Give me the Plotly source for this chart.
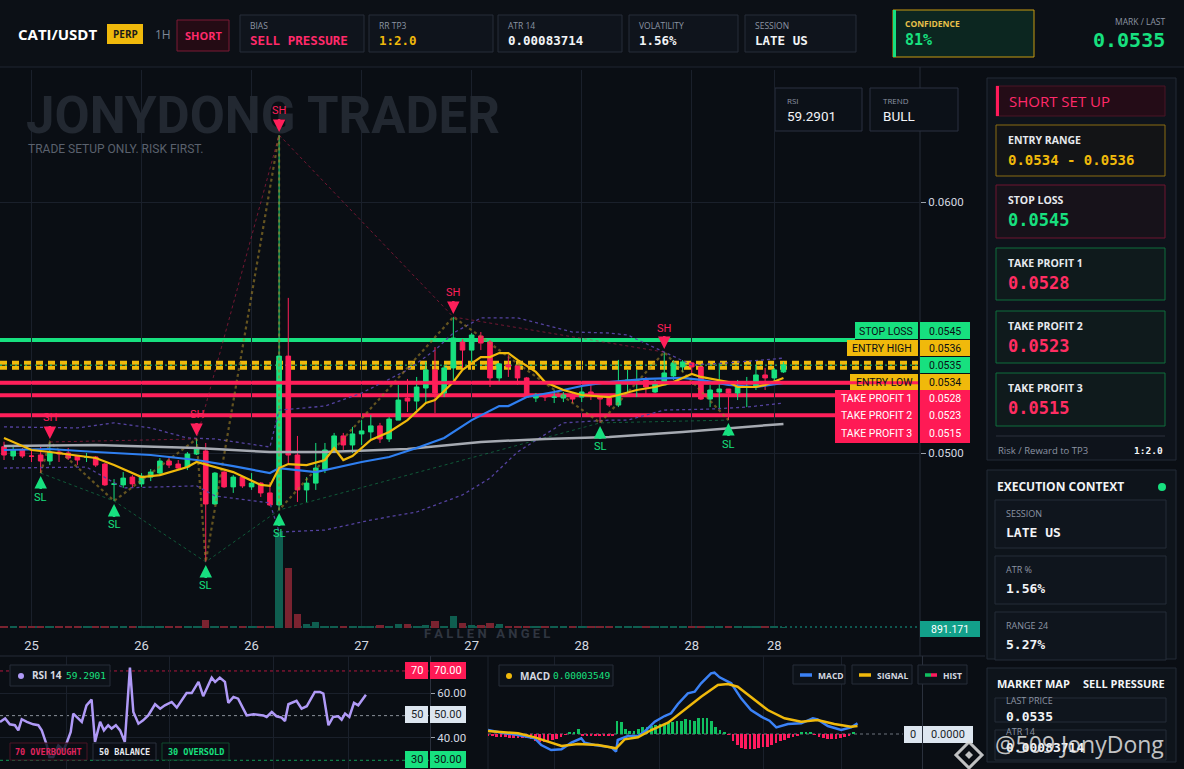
import plotly.graph_objects as go

W, H = 1184, 769
def PX(x): return x / W
def PY(y): return 1 - y / H

SANS = "Open Sans, Noto Sans, sans-serif"
MONO = "DejaVu Sans Mono, Liberation Mono, monospace"
NARROW = "Liberation Sans Narrow, Roboto, sans-serif"
GREEN = "#17e07f"
RED = "#ff1f5a"
GOLD = "#f0b90b"
BG = "#0a0e14"
GRID = "#1a202b"

# ---------------- data ----------------
idx = list(range(86))
opens = [0.05025,0.04988,0.05012,0.04988,0.04992,0.04968,0.05004,0.05000,0.04988,0.04983,
         0.04984,0.04956,0.04875,0.04873,0.04904,0.04877,0.04904,0.04920,0.04968,0.04956,
         0.04944,0.04996,0.05008,0.04797,0.04924,0.04865,0.04904,0.04865,0.04880,0.04841,
         0.04793,0.05386,0.04992,0.04853,0.04880,0.04936,0.05008,0.05068,0.05032,0.05076,
         0.05084,0.05108,0.05056,0.05131,0.05219,0.05207,0.05259,0.05331,0.05239,0.05339,
         0.05442,0.05410,0.05466,0.05442,0.05299,0.05351,0.05347,0.05299,0.05219,0.05231,
         0.05222,0.05219,0.05223,0.05223,0.05243,0.05223,0.05219,0.05191,0.05283,0.05287,
         0.05291,0.05243,0.05271,0.05307,0.05343,0.05359,0.05343,0.05215,0.05243,0.05255,
         0.05239,0.05262,0.05267,0.05311,0.05299,0.05323]
highs = [0.05045,0.05032,0.05020,0.05012,0.05024,0.05044,0.05012,0.05020,0.04992,0.05000,
         0.04988,0.04960,0.04896,0.04924,0.04912,0.04920,0.04936,0.04980,0.04980,0.04972,
         0.05004,0.05056,0.05040,0.04924,0.04928,0.04912,0.04908,0.04920,0.04884,0.04884,
         0.06267,0.05618,0.05068,0.04904,0.05040,0.05040,0.05080,0.05080,0.05104,0.05131,
         0.05151,0.05120,0.05143,0.05271,0.05295,0.05303,0.05363,0.05422,0.05351,0.05542,
         0.05454,0.05478,0.05482,0.05450,0.05359,0.05390,0.05347,0.05303,0.05239,0.05239,
         0.05251,0.05243,0.05239,0.05271,0.05283,0.05231,0.05231,0.05371,0.05331,0.05331,
         0.05303,0.05291,0.05402,0.05370,0.05370,0.05363,0.05343,0.05271,0.05359,0.05255,
         0.05291,0.05303,0.05351,0.05339,0.05339,0.05363]
lows = [0.04972,0.04972,0.04980,0.04964,0.04920,0.04952,0.04964,0.04972,0.04952,0.04964,
        0.04944,0.04869,0.04809,0.04861,0.04861,0.04865,0.04888,0.04912,0.04940,0.04932,
        0.04932,0.04992,0.04566,0.04793,0.04861,0.04841,0.04861,0.04853,0.04825,0.04789,
        0.04773,0.04960,0.04805,0.04805,0.04853,0.04920,0.05000,0.05012,0.05000,0.05032,
        0.05052,0.05040,0.05044,0.05131,0.05163,0.05171,0.05199,0.05159,0.05223,0.05291,
        0.05339,0.05363,0.05410,0.05263,0.05283,0.05303,0.05271,0.05219,0.05203,0.05207,
        0.05199,0.05203,0.05199,0.05203,0.05211,0.05120,0.05183,0.05183,0.05243,0.05223,
        0.05223,0.05239,0.05271,0.05291,0.05323,0.05319,0.05211,0.05183,0.05179,0.05131,
        0.05211,0.05183,0.05251,0.05251,0.05283,0.05319]
closes = [0.04992,0.05012,0.04988,0.04987,0.04968,0.05004,0.04996,0.04980,0.04972,0.04984,
          0.04952,0.04873,0.04877,0.04900,0.04877,0.04908,0.04924,0.04968,0.04952,0.04940,
          0.04996,0.05016,0.04797,0.04920,0.04865,0.04904,0.04869,0.04880,0.04841,0.04793,
          0.05386,0.04992,0.04853,0.04880,0.04940,0.05012,0.05068,0.05032,0.05076,0.05088,
          0.05108,0.05056,0.05135,0.05211,0.05207,0.05263,0.05331,0.05239,0.05339,0.05458,
          0.05410,0.05470,0.05438,0.05299,0.05355,0.05343,0.05299,0.05223,0.05231,0.05223,
          0.05223,0.05231,0.05215,0.05243,0.05231,0.05215,0.05191,0.05279,0.05291,0.05291,
          0.05263,0.05283,0.05319,0.05359,0.05363,0.05343,0.05215,0.05251,0.05255,0.05239,
          0.05263,0.05263,0.05311,0.05299,0.05331,0.05351]
volumes = [1400,1100,1600,1200,1500,1300,1000,1400,1200,1100,
           1300,1500,1200,1000,1300,1100,1400,1200,1000,1300,
           1500,1700,7500,2200,1500,1300,1100,1200,1400,1300,
           86000,54000,12500,3600,5400,1800,1800,2000,1500,1700,
           1600,2700,1500,3600,3600,1800,2700,6300,2200,10800,
           4500,2700,2700,4500,3600,1800,1500,1300,1200,1100,
           1300,1000,1200,1400,1500,1800,1300,1800,1200,1100,
           1300,1200,1500,1300,1200,1100,1400,1800,1300,2200,
           1200,1300,1200,1100,1000,891.171]

x_tick_vals = [3, 15, 27, 39, 51, 63, 75, 84]
x_tick_text = ["25", "26", "26", "27", "27", "28", "28", "28"]
price_tick_vals = [0.05, 0.06]
price_tick_text = ["0.0500", "0.0600"]

ema_fast_idx = [0,3,5,10,12,15,17,20,21,23,25,28,29,30,31,33,35,36,37,38,40,42,44,46,47,49,50,52,53,54,
                55,56,58,59,61,63,66,67,69,71,73,75,76,79,80,82,83,85]
ema_fast = [0.05060,0.05012,0.05004,0.04980,0.04952,0.04904,0.04912,0.04944,0.04964,0.04944,
            0.04924,0.04873,0.04869,0.04940,0.04956,0.04952,0.04972,0.05020,0.04972,0.04988,
            0.05052,0.05084,0.05131,0.05199,0.05211,0.05283,0.05331,0.05382,0.05382,0.05398,
            0.05398,0.05371,0.05323,0.05283,0.05251,0.05231,0.05223,0.05231,0.05251,0.05263,
            0.05283,0.05315,0.05303,0.05283,0.05263,0.05263,0.05271,0.05299]
ema_mid_idx = [0,5,10,16,21,25,29,30,34,39,42,45,48,51,54,55,57,60,63,66,70,74,76,79,82,85]
ema_mid = [0.05012,0.05016,0.05004,0.04992,0.04972,0.04948,0.04920,0.04940,0.04924,0.04964,
           0.04984,0.05020,0.05060,0.05131,0.05187,0.05187,0.05223,0.05243,0.05267,0.05283,
           0.05295,0.05299,0.05291,0.05271,0.05263,0.05279]
ema_slow_idx = [0,10,21,29,35,44,52,59,66,74,85]
ema_slow = [0.05028,0.05032,0.05020,0.05004,0.05004,0.05016,0.05044,0.05056,0.05064,0.05084,0.05116]
band_up_idx = [0,8,12,16,20,23,29,30,35,39,44,47,49,52,56,62,66,68,72,75,79,85]
band_up = [0.05104,0.05100,0.05120,0.05100,0.05060,0.05056,0.05024,0.05171,0.05187,0.05239,
           0.05331,0.05410,0.05478,0.05538,0.05538,0.05482,0.05478,0.05470,0.05402,0.05351,
           0.05359,0.05378]
band_lo_idx = [0,9,13,21,23,29,30,35,40,45,50,53,56,61,66,68,72,77,81,85]
band_lo = [0.04940,0.04944,0.04861,0.04869,0.04829,0.04801,0.04685,0.04693,0.04733,0.04765,
           0.04833,0.04900,0.05004,0.05120,0.05131,0.05131,0.05171,0.05175,0.05183,0.05199]

sh_idx = [5, 21, 30, 49, 72]
sl_idx = [4, 12, 22, 30, 65, 79]
zigzag = [("L", 4), ("H", 5), ("L", 12), ("H", 21), ("L", 22), ("H", 30), ("L", 30),
          ("H", 49), ("L", 65), ("H", 72), ("L", 79)]

levels = {"stop": 0.0545, "entry_high": 0.0536, "last": 0.0535, "entry_low": 0.0534,
          "tp1": 0.0528, "tp2": 0.0523, "tp3": 0.0515}

rsi_idx = [0.0,1.2,2.3,3.5,4.3,5.1,6.3,7.8,9.0,9.8,11.0,11.6,12.5,13.7,14.9,15.6,16.6,17.2,19.2,20.3,
           21.5,22.3,23.5,24.4,25.4,26.2,27.2,28.2,29.3,30.5,31.3,32.5,33.6,34.8,36.4,37.6,38.7,40.3,41.5,42.6,
           43.8,45.0,46.6,47.7,49.7,50.5,51.6,52.8,53.6,54.8,55.9,57.9,59.5,61.8,62.6,63.8,64.9,66.1,66.9,67.7,
           69.6,70.8,72.0,73.9,75.1,75.9,77.1,78.2,79.4,80.2,81.0,82.0,83.1,84.1,85.9]
rsi_vals = [47.2,48.7,46.1,45.7,43.4,48.4,47.2,46.1,45.7,43.4,36.7,31.5,31.5,36.7,34.5,37.5,42.7,50.9,47.2,54.6,
            57.2,38.2,47.2,43.4,45.7,44.2,45.7,43.4,38.2,71.5,51.6,46.4,47.9,50.1,55.1,53.1,54.6,56.1,53.6,56.9,
            60.1,60.1,65.1,58.7,67.0,65.1,67.0,65.1,55.7,58.4,57.6,50.1,50.6,50.1,49.4,51.6,49.7,49.1,47.6,55.1,
            56.6,53.1,54.2,60.6,60.6,59.9,45.7,49.4,49.7,48.2,50.9,49.4,55.7,54.6,59.3]

# MACD values in units of 1e-6
macd_idx = [0,3.1,7.0,10.9,12.4,14.7,17.1,19.4,21.7,22.5,24.8,28.7,29.8,30.2,32.6,34.9,36.4,38.8,41.1,42.6,
            44.2,46.5,48.1,49.6,51.9,52.7,53.9,56.6,58.9,61.2,63.6,65.5,67.1,69.8,72.9,75.6,76.7,79.1,82.2,84.5,86.0]
macd_vals = [12,4,-3,-13,-33,-48,-46,-26,-13,-26,-33,-40,-53,-18,-6,-6,7,37,54,62,
             90,122,127,152,182,184,170,152,107,72,52,40,20,30,32,47,44,24,12,20,32]
signal_idx = [0,7.0,10.9,13.2,17.1,20.9,25.6,29.8,31.8,34.9,38.0,41.9,45.7,49.6,53.5,55.8,58.1,61.2,65.1,69.0,
              72.9,76.7,80.6,84.5,86.0]
signal_vals = [9,2,-10,-20,-36,-30,-33,-43,-16,-10,12,34,72,112,147,150,142,112,72,47,37,42,30,22,24]
hist_vals = [-4,-6,-8,-10,-10,-12,-12,-11,-13,-11,-16,-20,-23,-23,-20,-18,-14,-10,-3,4,
             7,14,-4,-5,-5,-6,-5,-5,-6,-6,40,37,16,8,8,14,20,20,24,27,
             30,30,34,37,40,40,44,42,40,47,47,47,40,22,12,4,-3,-20,-33,-42,
             -46,-46,-44,-42,-40,-38,-32,-27,-22,-17,-12,-8,-4,4,7,7,-3,-10,-13,-16,
             -16,-16,-13,-10,-6,4]

# ---------------- helpers ----------------
shapes, annotations = [], []

def box(x0, y0, x1, y1, fill, line=None, lw=1, layer="below"):
    shapes.append(dict(type="rect", xref="paper", yref="paper", x0=PX(x0), x1=PX(x1),
                       y0=PY(y1), y1=PY(y0), fillcolor=fill, layer=layer,
                       line=dict(color=line if line else "rgba(0,0,0,0)", width=lw if line else 0)))

def seg(x0, y0, x1, y1, color, width=1, dash="solid", layer="below"):
    shapes.append(dict(type="line", xref="paper", yref="paper", x0=PX(x0), x1=PX(x1),
                       y0=PY(y0), y1=PY(y1), line=dict(color=color, width=width, dash=dash), layer=layer))

def txt(x, y, s, size=11, color="#ffffff", family=SANS, weight="normal", anchor="left"):
    annotations.append(dict(xref="paper", yref="paper", x=PX(x), y=PY(y), text=s, showarrow=False,
                            xanchor=anchor, yanchor="middle",
                            font=dict(size=size, color=color, family=family, weight=weight)))

def level_line(val, x1px, color, width, dash="solid", layer="below"):
    shapes.append(dict(type="line", xref="paper", yref="y", x0=0, x1=PX(x1px), y0=val, y1=val,
                       line=dict(color=color, width=width, dash=dash), layer=layer))

fig = go.Figure()

# ---------------- main chart traces ----------------
vol_colors = ["#0f5e50" if c >= o else "#7a2330" for o, c in zip(opens, closes)]
fig.add_trace(go.Bar(x=idx, y=volumes, marker=dict(color=vol_colors, line=dict(width=0)),
                     width=0.8, xaxis="x", yaxis="y2", hoverinfo="skip"))

band_style = dict(color="#54429f", width=1.3, dash="dot")
fig.add_trace(go.Scatter(x=band_up_idx, y=band_up, mode="lines", line=band_style, xaxis="x", yaxis="y"))
fig.add_trace(go.Scatter(x=band_lo_idx, y=band_lo, mode="lines", line=band_style, xaxis="x", yaxis="y"))

zz_x = [i for _, i in zigzag]
zz_y = [highs[i] if k == "H" else lows[i] for k, i in zigzag]
fig.add_trace(go.Scatter(x=zz_x, y=zz_y, mode="lines",
                         line=dict(color="rgba(160,130,40,0.6)", width=2.2, dash="dot"), xaxis="x", yaxis="y"))
fig.add_trace(go.Scatter(x=sh_idx, y=[highs[i] for i in sh_idx], mode="lines",
                         line=dict(color="rgba(200,30,75,0.55)", width=1, dash="dot"), xaxis="x", yaxis="y"))
fig.add_trace(go.Scatter(x=sl_idx, y=[lows[i] for i in sl_idx], mode="lines",
                         line=dict(color="rgba(20,150,85,0.55)", width=1, dash="dot"), xaxis="x", yaxis="y"))

fig.add_trace(go.Scatter(x=ema_slow_idx, y=ema_slow, mode="lines", line=dict(color="#a6aab2", width=2.5),
                         xaxis="x", yaxis="y"))
fig.add_trace(go.Scatter(x=ema_mid_idx, y=ema_mid, mode="lines", line=dict(color="#2f7ff0", width=2.2),
                         xaxis="x", yaxis="y"))

fig.add_trace(go.Candlestick(x=idx, open=opens, high=highs, low=lows, close=closes,
                             increasing=dict(line=dict(color=GREEN, width=1), fillcolor=GREEN),
                             decreasing=dict(line=dict(color=RED, width=1), fillcolor=RED),
                             whiskerwidth=0, xaxis="x", yaxis="y", hoverinfo="skip"))

fig.add_trace(go.Scatter(x=ema_fast_idx, y=ema_fast, mode="lines", line=dict(color=GOLD, width=2.2),
                         xaxis="x", yaxis="y"))

# ---------------- RSI ----------------
fig.add_trace(go.Scatter(x=rsi_idx, y=rsi_vals, mode="lines", line=dict(color="#b09af7", width=2.5),
                         xaxis="x3", yaxis="y3"))

# ---------------- MACD ----------------
fig.add_trace(go.Bar(x=idx, y=hist_vals, marker=dict(color=["#10c060" if v >= 0 else "#ff1a5e" for v in hist_vals],
                                                    line=dict(width=0)),
                     width=0.62, xaxis="x4", yaxis="y4"))
fig.add_trace(go.Scatter(x=macd_idx, y=macd_vals, mode="lines", line=dict(color="#3b82f6", width=2.5),
                         xaxis="x4", yaxis="y4"))
fig.add_trace(go.Scatter(x=signal_idx, y=signal_vals, mode="lines", line=dict(color=GOLD, width=2.5),
                         xaxis="x4", yaxis="y4"))

# ---------------- backgrounds / frames ----------------
box(0, 0, 1184, 67, "#0c1016")
seg(0, 67, 1184, 67, "#1e2430")
seg(920, 67, 920, 656, "#242a36")
seg(0, 656, 985, 656, "#242a36")
seg(488, 656, 488, 769, "#1c222d")

# level lines (main chart)
level_line(levels["stop"], 855, GREEN, 4)
level_line(levels["entry_high"], 918, GOLD, 4, "7px,5px")
level_line(levels["entry_low"], 918, GOLD, 4, "7px,5px")
level_line(levels["last"], 920, GREEN, 1, "2px,3px")
level_line(levels["tp1"], 850, RED, 4)
level_line(levels["tp2"], 835, RED, 4)
level_line(levels["tp3"], 835, RED, 4)
shapes.append(dict(type="line", xref="paper", yref="y2", x0=0, x1=PX(920), y0=volumes[-1], y1=volumes[-1],
                   line=dict(color="#12a08a", width=1, dash="2px,3px"), layer="below"))

# RSI reference lines
for val, col in [(70, "#b3173f"), (50, "#8a909a"), (30, "#0f9a55")]:
    shapes.append(dict(type="line", xref="paper", yref="y3", x0=0, x1=PX(430), y0=val, y1=val,
                       line=dict(color=col, width=1, dash="3px,3px"), layer="below"))
# MACD zero line
shapes.append(dict(type="line", xref="paper", yref="y4", x0=PX(488), x1=PX(903), y0=0, y1=0,
                   line=dict(color="#6c727c", width=1, dash="3px,3px"), layer="below"))

# ---------------- top bar ----------------
txt(16, 34, "CATI/USDT", 15, "#ffffff", SANS, "bold")
box(107, 24, 143, 44, GOLD)
txt(125, 34, "PERP", 10, "#1a1a1a", SANS, "bold", "center")
txt(153, 34, "1H", 12, "#7f8796", SANS)
box(177, 20, 229, 51, "#240b14", "#7a1a34")
txt(203, 35, "SHORT", 11, "#ff2a6a", SANS, "bold", "center")
info = [(240, 364, "BIAS", "SELL PRESSURE", "#ff2a6a"),
        (369, 493, "RR TP3", "1:2.0", GOLD),
        (498, 622, "ATR 14", "0.00083714", "#f2f4f7"),
        (629, 738, "VOLATILITY", "1.56%", "#f2f4f7"),
        (745, 856, "SESSION", "LATE US", "#f2f4f7")]
for x0, x1, lab, val, col in info:
    box(x0, 15, x1, 52, "#0f141c", "#262d39")
    txt(x0 + 8, 26, lab, 8.5, "#8c94a3", SANS)
    txt(x0 + 8, 40, val, 12.5, col, MONO, "bold")
box(893, 10, 1034, 57, "#0c2620", "#c79a10")
box(893, 10, 896, 57, GREEN)
txt(903, 23, "CONFIDENCE", 8.5, "#e8c04a", SANS, "bold")
txt(903, 40, "81%", 15, GREEN, MONO, "bold")
txt(1167, 22, "MARK / LAST", 8.5, "#8c94a3", SANS, anchor="right")
txt(1167, 40, "0.0535", 20, GREEN, MONO, "bold", "right")

# ---------------- chart overlays ----------------
txt(24, 115, "JONYDONG TRADER", 51, "#222831", NARROW, "bold")
txt(26, 149, "TRADE SETUP ONLY. RISK FIRST.", 12, "#5a616d", NARROW)
box(775, 88, 862, 131, "#0c1118", "#2a3140")
txt(785, 101, "RSI", 8, "#8c94a3", SANS)
txt(785, 116, "59.2901", 13.5, "#f2f4f7", NARROW)
box(870, 88, 958, 131, "#0c1118", "#2a3140")
txt(881, 101, "TREND", 8, "#8c94a3", SANS)
txt(881, 116, "BULL", 13.5, "#f2f4f7", NARROW)
txt(487, 633, "F A L L E N   A N G E L", 13, "#2f3540", NARROW, "bold", "center")

# price label boxes on right
lab_font = "Roboto, sans-serif"
box(855, 322, 918, 339, GREEN, layer="above"); box(920, 322, 970, 339, GREEN, layer="above")
txt(886, 331, "STOP LOSS", 10.5, "#0b0e14", lab_font, anchor="center")
txt(945, 331, "0.0545", 10.5, "#0b0e14", lab_font, anchor="center")
box(847, 340, 918, 356, GOLD, layer="above"); box(920, 340, 970, 356, GOLD, layer="above")
txt(882, 348, "ENTRY HIGH", 10.5, "#0b0e14", lab_font, anchor="center")
txt(945, 348, "0.0536", 10.5, "#0b0e14", lab_font, anchor="center")
box(920, 357, 970, 373, GREEN, layer="above")
txt(945, 365, "0.0535", 10.5, "#0b0e14", lab_font, anchor="center")
box(850, 374, 918, 390, GOLD, layer="above"); box(920, 374, 970, 390, GOLD, layer="above")
txt(884, 382, "ENTRY LOW", 10.5, "#0b0e14", lab_font, anchor="center")
txt(945, 382, "0.0534", 10.5, "#0b0e14", lab_font, anchor="center")
level_line(levels["tp1"], 918, RED, 3, layer="above")
box(835, 390, 918, 443, "#ff1a55", layer="above"); box(920, 390, 970, 443, "#ff1a55", layer="above")
for yy, lab, val in [(398, "TAKE PROFIT 1", "0.0528"), (415, "TAKE PROFIT 2", "0.0523"), (433, "TAKE PROFIT 3", "0.0515")]:
    txt(876, yy, lab, 10.5, "#ffffff", lab_font, anchor="center")
    txt(945, yy, val, 10.5, "#ffffff", lab_font, anchor="center")
box(920, 621, 980, 637, "#12a08a", layer="above")
txt(950, 629, "891.171", 10.5, "#ffffff", lab_font, anchor="center")

# SH / SL markers
for i in sh_idx:
    annotations.append(dict(x=i, y=highs[i], xref="x", yref="y", text="SH", showarrow=True,
                            ax=0, ay=-24, arrowhead=2, arrowsize=1, arrowwidth=2.5, arrowcolor=RED,
                            standoff=3, font=dict(color=RED, size=11, family=NARROW)))
for i in sl_idx:
    annotations.append(dict(x=i, y=lows[i], xref="x", yref="y", text="SL", showarrow=True,
                            ax=0, ay=24, arrowhead=2, arrowsize=1, arrowwidth=2.5, arrowcolor=GREEN,
                            standoff=3, font=dict(color=GREEN, size=11, family=NARROW)))

# ---------------- RSI panel decorations ----------------
box(10, 665, 110, 686, "#0d1219", "#262c38", layer="above")
shapes.append(dict(type="circle", xref="paper", yref="paper", x0=PX(18), x1=PX(24), y0=PY(679), y1=PY(673),
                   fillcolor="#b09af7", line=dict(width=0), layer="above"))
txt(30, 675, "RSI 14", 10, "#d5d9e0", SANS, "bold")
txt(64, 675, "59.2901", 9.5, GREEN, MONO)
for x0, x1, s, bc, tc in [(10, 87, "70 OVERBOUGHT", "#4a1424", "#e0245e"),
                          (93, 156, "50 BALANCE", "#2a303c", "#e6e9ee"),
                          (162, 229, "30 OVERSOLD", "#0f4a2c", GREEN)]:
    box(x0, 743, x1, 760, "rgba(10,14,20,0.8)", bc, layer="above")
    txt((x0 + x1) / 2, 752, s, 8.5, tc, MONO, "bold", "center")
for y0, y1, a, b, fc, tc in [(662, 679, "70", "70.00", "#ff1a55", "#ffffff"),
                             (706, 723, "50", "50.00", "#dde6f0", "#1a1f28"),
                             (751, 768, "30", "30.00", GREEN, "#0b0e14")]:
    box(405, y0, 428, y1, fc, layer="above")
    box(430, y0, 466, y1, fc, layer="above")
    txt(416.5, (y0 + y1) / 2, a, 11, tc, lab_font, anchor="center")
    txt(448, (y0 + y1) / 2, b, 11, tc, lab_font, anchor="center")

# ---------------- MACD panel decorations ----------------
box(499, 665, 613, 686, "#0d1219", "#262c38", layer="above")
shapes.append(dict(type="circle", xref="paper", yref="paper", x0=PX(506), x1=PX(512), y0=PY(679), y1=PY(673),
                   fillcolor=GOLD, line=dict(width=0), layer="above"))
txt(518, 676, "MACD", 10, "#d5d9e0", SANS, "bold")
txt(551, 675, "0.00003549", 9.5, GREEN, MONO)
for x0, x1, s, c in [(793, 845, "MACD", "#3b82f6"), (852, 912, "SIGNAL", GOLD), (918, 967, "HIST", None)]:
    box(x0, 665, x1, 684, "#0d1219", "#262c38", layer="above")
    if c:
        seg(x0 + 7, 675, x0 + 19, 675, c, 3.5, layer="above")
    else:
        seg(x0 + 7, 675, x0 + 13, 675, "#10c060", 3.5, layer="above")
        seg(x0 + 13, 675, x0 + 19, 675, "#ff1a5e", 3.5, layer="above")
    txt(x0 + 23, 675, s, 8.5, "#d5d9e0", SANS, "bold")
box(904, 726, 922, 743, "#dde6f0", layer="above")
box(923, 726, 973, 743, "#dde6f0", layer="above")
txt(913, 734.5, "0", 11, "#1a1f28", lab_font, anchor="center")
txt(948, 734.5, "0.0000", 11, "#1a1f28", lab_font, anchor="center")

# ---------------- right panel: setup ----------------
box(987, 78, 1176, 460, "#0e131b", "#232a36")
box(996, 86, 1165, 116, "#240c17", "#4a1426")
box(996, 86, 999, 116, "#ff1a5a")
txt(1007, 101, "SHORT SET UP", 15, "#ff2a6a", SANS)
cards = [(125, 176, "ENTRY RANGE", "0.0534 - 0.0536", GOLD, "#8a6d12", "#131416", 14),
         (185, 238, "STOP LOSS", "0.0545", GREEN, "#6e1530", "#17121a", 17),
         (248, 300, "TAKE PROFIT 1", "0.0528", "#ff2d62", "#0e6e3c", "#0f1a1c", 17),
         (311, 363, "TAKE PROFIT 2", "0.0523", "#ff2d62", "#0e6e3c", "#0f1a1c", 17),
         (373, 426, "TAKE PROFIT 3", "0.0515", "#ff2d62", "#0e6e3c", "#0f1a1c", 17)]
for y0, y1, lab, val, vc, bc, fc, vs in cards:
    box(996, y0, 1165, y1, fc, bc)
    txt(1006, y0 + 15, lab, 10.5, "#e6e9ee", SANS, "bold")
    txt(1006, y0 + 35, val, vs, vc, MONO, "bold")
seg(996, 436, 1165, 436, "#2a313d")
txt(996, 450, "Risk / Reward to TP3", 9.5, "#8c94a3", SANS)
txt(1165, 450, "1:2.0", 9.5, "#f2f4f7", MONO, "bold", "right")

# ---------------- right panel: execution context ----------------
box(987, 470, 1176, 659, "#0e141b", "#232a36")
txt(995, 486, "EXECUTION CONTEXT", 12, "#f2f4f7", SANS, "bold")
shapes.append(dict(type="circle", xref="paper", yref="paper", x0=PX(1158), x1=PX(1166), y0=PY(491), y1=PY(483),
                   fillcolor=GREEN, line=dict(width=0)))
for y0, y1, lab, val in [(500, 548, "SESSION", "LATE US"), (556, 604, "ATR %", "1.56%"), (612, 660, "RANGE 24", "5.27%")]:
    box(995, y0, 1166, y1, "#0f151d", "#252c38")
    txt(1004, y0 + 13, lab, 9, "#8c94a3", SANS)
    txt(1004, y0 + 32, val, 13, "#f2f4f7", MONO, "bold")

box(987, 668, 1176, 762, "#0e141b", "#232a36")
txt(995, 683, "MARKET MAP", 11, "#f2f4f7", SANS, "bold")
txt(1167, 683, "SELL PRESSURE", 11, "#f2f4f7", SANS, "bold", "right")
box(995, 698, 1166, 722, "#0f151d", "#252c38")
txt(1004, 700, "LAST PRICE", 9, "#8c94a3", SANS)
txt(1004, 716, "0.0535", 13, "#f2f4f7", MONO, "bold")
box(995, 730, 1166, 760, "#0f151d", "#252c38")
txt(1004, 731, "ATR 14", 9, "#8c94a3", SANS)
txt(1004, 747, "0.00083714", 13, "#f2f4f7", MONO, "bold")

# watermark at bottom right
cx, cy, r = 969, 755, 13
shapes.append(dict(type="path", xref="paper", yref="paper",
                   path=f"M {PX(cx)},{PY(cy - r)} L {PX(cx + r)},{PY(cy)} L {PX(cx)},{PY(cy + r)} L {PX(cx - r)},{PY(cy)} Z",
                   line=dict(color="rgba(225,225,225,0.85)", width=3), fillcolor="rgba(0,0,0,0)", layer="above"))
shapes.append(dict(type="path", xref="paper", yref="paper",
                   path=f"M {PX(cx)},{PY(cy - 4)} L {PX(cx + 4)},{PY(cy)} L {PX(cx)},{PY(cy + 4)} L {PX(cx - 4)},{PY(cy)} Z",
                   line=dict(width=0), fillcolor="rgba(225,225,225,0.85)", layer="above"))
txt(993, 744, "@509 JonyDong", 23, "rgba(228,228,228,0.85)", SANS)

# ---------------- layout ----------------
axis_font = dict(family="Roboto, sans-serif", size=11.5, color="#d5d9e0")
vol_max = max(volumes)
fig.update_layout(
    width=W, height=H, margin=dict(l=0, r=0, t=0, b=0),
    paper_bgcolor=BG, plot_bgcolor="rgba(0,0,0,0)", showlegend=False, hovermode=False,
    shapes=shapes, annotations=annotations, boxgap=0.28,
    xaxis=dict(domain=[0, PX(920)], range=[-0.436, 99.89], anchor="y",
               tickvals=x_tick_vals, ticktext=x_tick_text, tickfont=dict(family=NARROW, size=13, color="#d5d9e0"),
               ticklabelstandoff=8,
               showgrid=True, gridcolor=GRID, gridwidth=1, zeroline=False, showline=False, ticks="",
               rangeslider=dict(visible=False), fixedrange=True),
    yaxis=dict(domain=[PY(628), PY(70)], range=[0.043028, 0.065259], anchor="x", side="right",
               tickvals=price_tick_vals, ticktext=price_tick_text, tickfont=axis_font,
               showgrid=True, gridcolor=GRID, zeroline=False, ticks="outside", ticklen=5,
               tickcolor="#9aa0aa", showline=False, fixedrange=True),
    yaxis2=dict(overlaying="y", anchor="x", range=[0, vol_max * 5.81], visible=False, fixedrange=True),
    xaxis3=dict(domain=[0, PX(430)], range=[0, 100.94], anchor="y3", tickvals=[15.7, 39.9, 64.1, 81.9],
                showticklabels=False, showgrid=True, gridcolor=GRID, zeroline=False, ticks="", fixedrange=True),
    yaxis3=dict(domain=[0, PY(656)], range=[26.1, 76.7], anchor="x3", side="right",
                tickvals=[40, 60], ticktext=["40.00", "60.00"], tickfont=axis_font,
                showgrid=True, gridcolor=GRID, zeroline=False, ticks="outside", ticklen=4, tickcolor="#9aa0aa",
                showline=True, linecolor="#2a303c", fixedrange=True),
    xaxis4=dict(domain=[PX(488), PX(922)], range=[0, 101], anchor="y4", tickvals=[15.5, 39.9, 64.1, 82.2],
                showticklabels=False, showgrid=True, gridcolor=GRID, zeroline=False, ticks="", fixedrange=True),
    yaxis4=dict(domain=[0, PY(656)], range=[-105, 234], anchor="x4", side="right", showticklabels=False,
                showgrid=False, zeroline=False, showline=True, linecolor="#2a303c", fixedrange=True),
    bargap=0,
)

fig.write_html("out.html", include_plotlyjs=True, config={"displayModeBar": False},
               post_script="document.body.style.margin='0';document.body.style.overflow='hidden';")
